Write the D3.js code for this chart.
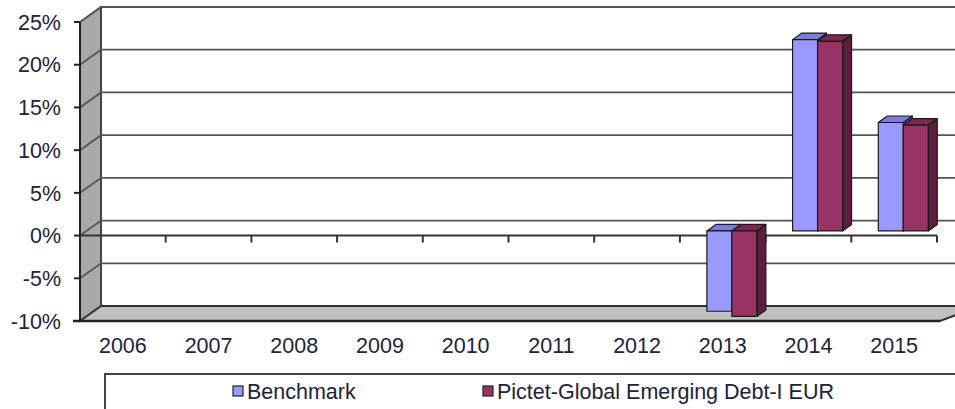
<!DOCTYPE html>
<html>
<head>
<meta charset="utf-8">
<script src="https://cdn.jsdelivr.net/npm/d3@7/dist/d3.min.js"></script>
<style>
  body { margin: 0; background: #fff; }
  svg { display: block; font-family: "Liberation Sans", Arial, sans-serif; }
</style>
</head>
<body>
<div id="chart"></div>
<script>
const years = ["2006", "2007", "2008", "2009", "2010", "2011", "2012", "2013", "2014", "2015"]
const seriesNames = ["Benchmark", "Pictet-Global Emerging Debt-I EUR"]
const benchmark = [null, null, null, null, null, null, null, -9.4, 22.4, 12.7]
const pictet = [null, null, null, null, null, null, null, -10.0, 22.2, 12.4]
const yTicks = [-10, -5, 0, 5, 10, 15, 20, 25]

const COLORS = {
  "Benchmark": { front: "#9999ff", top: "#7c7cdc", side: "#5f5fb0" },
  "Pictet-Global Emerging Debt-I EUR": { front: "#993366", top: "#7d2853", side: "#5c1e3e" }
}

const width = 955, height = 409
// depth of the 3d box, in px
const DX = 21, DY = -15

const svg = d3.select("#chart").append("svg")
  .attr("width", width)
  .attr("height", height)

const x = d3.scaleBand().domain(years).range([80, 937])
const y = d3.scaleLinear().domain([-10, 25]).range([321, 22])
const bw = x.bandwidth()
const inner = d3.scaleBand().domain(seriesNames).range([0.315 * bw, 0.898 * bw])

const pt = (a) => a.map(p => p.join(",")).join(" ")

// walls
svg.append("polygon")
  .attr("points", pt([[80, y(25)], [80 + DX, y(25) + DY], [80 + DX, y(-10) + DY], [80, y(-10)]]))
  .attr("fill", "#a9a9a9")
  .attr("stroke", "#333").attr("stroke-width", 1.5)

svg.append("rect")
  .attr("x", 80 + DX).attr("y", y(25) + DY)
  .attr("width", 980 - 80 - DX).attr("height", y(-10) - y(25))
  .attr("fill", "#fff")
  .attr("stroke", "#444").attr("stroke-width", 2)

svg.append("polygon")
  .attr("points", pt([[80, y(-10)], [80 + DX, y(-10) + DY], [980, y(-10) + DY], [940, y(-10)]]))
  .attr("fill", "#c0c0c0")
  .attr("stroke", "#333").attr("stroke-width", 2)

// gridlines on side and back wall
const grid = svg.append("g").attr("stroke", "#555").attr("stroke-width", 1.8).attr("fill", "none")
yTicks.filter(v => v > -10).forEach(v => {
  grid.append("polyline")
    .attr("points", pt([[80, y(v)], [80 + DX, y(v) + DY], [960, y(v) + DY]]))
})

// value axis (front)
svg.append("line")
  .attr("x1", 80).attr("x2", 80)
  .attr("y1", y(25)).attr("y2", y(-10))
  .attr("stroke", "#222").attr("stroke-width", 2)

svg.append("line")
  .attr("x1", 73).attr("x2", 940)
  .attr("y1", y(-10)).attr("y2", y(-10))
  .attr("stroke", "#222").attr("stroke-width", 2.5)

const yAxis = svg.append("g")
yTicks.forEach(v => {
  yAxis.append("line")
    .attr("x1", 74).attr("x2", 80)
    .attr("y1", y(v)).attr("y2", y(v))
    .attr("stroke", "#222").attr("stroke-width", 2)
  yAxis.append("text")
    .attr("x", 61).attr("y", y(v))
    .attr("dy", "0.36em")
    .attr("text-anchor", "end")
    .attr("font-size", 21.5)
    .attr("fill", "#22223a")
    .text(v + "%")
})

// category axis at 0%
const xAxis = svg.append("g").attr("stroke", "#333")
xAxis.append("line")
  .attr("x1", 80).attr("x2", 937)
  .attr("y1", y(0)).attr("y2", y(0))
  .attr("stroke-width", 2)
years.forEach(yr => {
  const xe = x(yr) + bw
  xAxis.append("line")
    .attr("x1", xe).attr("x2", xe)
    .attr("y1", y(0)).attr("y2", y(0) + 7)
    .attr("stroke-width", 2)
})

svg.append("g").selectAll("text")
  .data(years)
  .join("text")
  .attr("x", d => x(d) + bw / 2)
  .attr("y", 353)
  .attr("text-anchor", "middle")
  .attr("font-size", 21.5)
  .attr("fill", "#22223a")
  .text(d => d)

// bars
const BAR_DY = -4.6, DEPTH_X = 9, DEPTH_Y = -6.5
const barData = []
years.forEach((yr, i) => {
  [benchmark, pictet].forEach((vals, s) => {
    if (vals[i] != null) barData.push({ year: yr, series: seriesNames[s], value: vals[i] })
  })
})

const bars = svg.append("g")
  .attr("stroke", "#1a1a1a").attr("stroke-width", 1.2).attr("stroke-linejoin", "round")

barData.forEach(d => {
  const c = COLORS[d.series]
  const x0 = x(d.year) + inner(d.series)
  const x1 = x0 + inner.bandwidth()
  const yTop = Math.min(y(d.value), y(0)) + BAR_DY
  const yBot = Math.max(y(d.value), y(0)) + BAR_DY
  bars.append("polygon")
    .attr("points", pt([[x1, yTop], [x1 + DEPTH_X, yTop + DEPTH_Y], [x1 + DEPTH_X, yBot + DEPTH_Y], [x1, yBot]]))
    .attr("fill", c.side)
  bars.append("polygon")
    .attr("points", pt([[x0, yTop], [x0 + DEPTH_X, yTop + DEPTH_Y], [x1 + DEPTH_X, yTop + DEPTH_Y], [x1, yTop]]))
    .attr("fill", c.top)
  bars.append("rect")
    .attr("x", x0).attr("y", yTop)
    .attr("width", x1 - x0).attr("height", yBot - yTop)
    .attr("fill", c.front)
})

// legend
const legend = svg.append("g")
legend.append("rect")
  .attr("x", 105).attr("y", 374)
  .attr("width", 900).attr("height", 60)
  .attr("fill", "#fff")
  .attr("stroke", "#444").attr("stroke-width", 2)

const legendX = [233, 483]
seriesNames.forEach((name, i) => {
  legend.append("rect")
    .attr("x", legendX[i]).attr("y", 386)
    .attr("width", 10).attr("height", 10)
    .attr("fill", COLORS[name].front)
    .attr("stroke", "#222").attr("stroke-width", 1.2)
  legend.append("text")
    .attr("x", legendX[i] + 14).attr("y", 399)
    .attr("font-size", 21.5)
    .attr("fill", "#22223a")
    .text(name)
})
</script>
</body>
</html>
